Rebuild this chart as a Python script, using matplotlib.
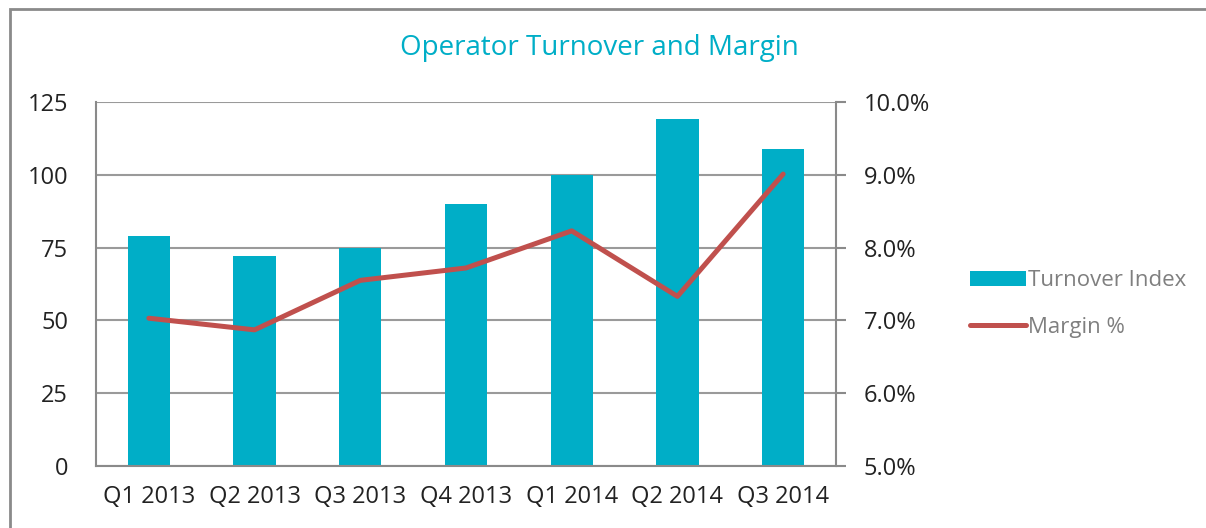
import matplotlib.pyplot as plt
from matplotlib.patches import Rectangle
from matplotlib.ticker import FuncFormatter

quarters = ["Q1 2013", "Q2 2013", "Q3 2013", "Q4 2013", "Q1 2014", "Q2 2014", "Q3 2014"]
turnover_index = [79, 72, 75, 90, 100, 119, 109]
margin_pct = [7.03, 6.87, 7.55, 7.72, 8.23, 7.33, 9.01]

plt.rcParams['font.family'] = ['Open Sans', 'DejaVu Sans']

fig = plt.figure(figsize=(12.06, 5.28), dpi=100)
ax = fig.add_axes([96 / 1206, 1 - 466 / 528, (836 - 96) / 1206, (466 - 102) / 528])
ax2 = ax.twinx()

x = range(len(quarters))
bars = ax.bar(x, turnover_index, width=0.4, color='#00AEC7', zorder=2, label='Turnover Index')
line, = ax2.plot(x, margin_pct, color='#C0504D', lw=3.6, solid_capstyle='round', label='Margin %')

ax.set_xlim(-0.5, len(quarters) - 0.5)
ax.set_ylim(0, 125)
ax.set_yticks([0, 25, 50, 75, 100, 125])
ax2.set_ylim(5, 10)
ax2.set_yticks([5, 6, 7, 8, 9, 10])
ax2.yaxis.set_major_formatter(FuncFormatter(lambda v, p: f"{v:.1f}%"))

ax.set_xticks(list(x))
ax.set_xticklabels(quarters)
ax.grid(axis='y', color='#9a9a9a', lw=1.5, zorder=0)
ax.set_axisbelow(True)

for a in (ax, ax2):
    for s in a.spines.values():
        s.set_visible(False)
    a.tick_params(axis='both', colors='#8a8a8a', labelcolor='#222222', labelsize=17, width=1.5)
ax.spines['left'].set_visible(True)
ax.spines['bottom'].set_visible(True)
ax2.spines['right'].set_visible(True)
for s in (ax.spines['left'], ax.spines['bottom'], ax2.spines['right']):
    s.set_color('#8a8a8a')
    s.set_linewidth(1.5)
ax.tick_params(axis='x', length=0, pad=14)
ax.tick_params(axis='y', length=0, pad=20)
ax2.tick_params(axis='y', length=7, pad=13)

fig.text(0.497, 0.909, "Operator Turnover and Margin", color='#00AEC7', fontsize=20, ha='center', va='center')

fig.legend(handles=[bars, line], loc='center left', bbox_to_anchor=(950 / 1206, 1 - 304 / 528),
           frameon=False, fontsize=16, labelcolor='#7f7f7f', handlelength=2.5, handletextpad=0.1,
           labelspacing=1.15)

fig.patches.append(Rectangle((10 / 1206, -0.1), 1.2, 1.1 - 9 / 528, transform=fig.transFigure,
                             fill=False, edgecolor='#8a8a8a', lw=2))

fig.savefig("out.png", dpi=100)
